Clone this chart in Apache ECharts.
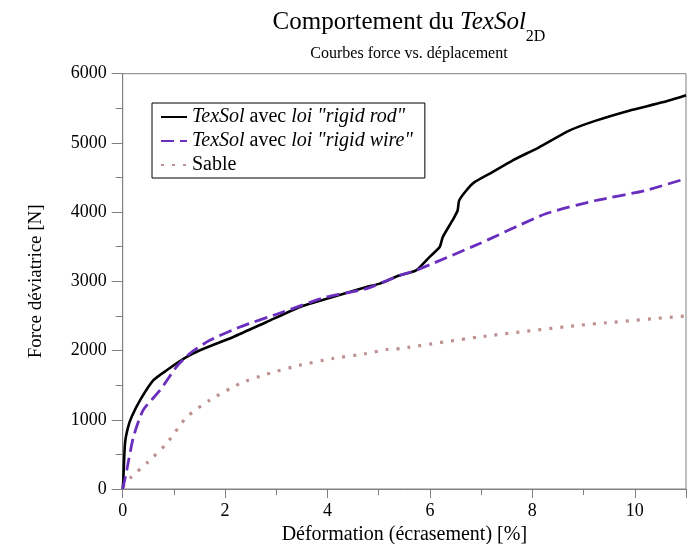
<!DOCTYPE html>
<html><head><meta charset="utf-8">
<script src="https://cdn.jsdelivr.net/npm/echarts@6/dist/echarts.min.js"></script>
<style>html,body{margin:0;padding:0;background:#fff}#c{width:695px;height:544px}</style>
</head><body><div id="c"></div>
<script>
const seriesNames = ['TexSol avec loi "rigid rod"', 'TexSol avec loi "rigid wire"', 'Sable'];
const rodX = [0, 0.01, 0.045, 0.1, 0.175, 0.34, 0.6, 0.86, 1.25, 1.51, 2.16, 2.81, 3.46, 4.1, 4.76, 5.02, 5.41, 5.73, 5.99, 6.19, 6.25, 6.44, 6.54, 6.57, 6.71, 6.87, 7.16, 7.61, 8.13, 8.72, 9.24, 9.89, 10.54, 11];
const rodY = [0, 100, 659, 880, 1043, 1284, 1572, 1716, 1908, 2005, 2197, 2413, 2630, 2774, 2918, 2967, 3087, 3159, 3351, 3495, 3639, 3880, 4024, 4168, 4313, 4433, 4553, 4745, 4937, 5178, 5322, 5466, 5586, 5690];
const wireX = [0, 0.08, 0.21, 0.4, 0.73, 1.05, 1.31, 1.7, 2.29, 3.13, 3.98, 4.76, 5.41, 5.73, 6.96, 8.26, 9.24, 10.21, 11];
const wireY = [0, 274, 754, 1139, 1428, 1764, 1957, 2149, 2341, 2557, 2774, 2894, 3087, 3159, 3543, 3976, 4168, 4313, 4485];
const sandX = [0, 0.175, 0.5, 0.86, 1.25, 1.7, 2.29, 2.81, 3.46, 4.1, 4.76, 5.15, 5.41, 6.96, 8.91, 11];
const sandY = [30, 178, 394, 659, 1040, 1284, 1524, 1659, 1789, 1885, 1957, 2015, 2029, 2197, 2365, 2500];
const xTicks = [0, 2, 4, 6, 8, 10];
const yTicks = [0, 1000, 2000, 3000, 4000, 5000, 6000];

const zip = (xs, ys) => xs.map((x, i) => [x, ys[i]]);
const F = '"Liberation Serif", "DejaVu Serif", serif';
const chart = echarts.init(document.getElementById('c'));
const legendRich = {
  i: {fontFamily: F, fontSize: 20, fontStyle: 'italic', color: '#000'},
  n: {fontFamily: F, fontSize: 20, color: '#000'}
};
chart.setOption({
  animation: false,
  backgroundColor: '#fff',
  title: {
    text: '{n|Comportement du }{i|TexSol}{s|2D}',
    subtext: 'Courbes force vs. déplacement',
    left: 404, textAlign: 'center', top: 5, itemGap: 1,
    textStyle: {
      fontWeight: 'normal',
      rich: {
        n: {fontFamily: F, fontSize: 25, fontWeight: 'normal', color: '#000', lineHeight: 28, verticalAlign: 'top'},
        i: {fontFamily: F, fontSize: 25, fontWeight: 'normal', fontStyle: 'italic', color: '#000', lineHeight: 28, verticalAlign: 'top'},
        s: {fontFamily: F, fontSize: 16, fontWeight: 'normal', color: '#000', lineHeight: 35, verticalAlign: 'bottom'}
      }
    },
    subtextStyle: {fontFamily: F, fontSize: 16, color: '#000'}
  },
  legend: {
    orient: 'vertical', left: 152, top: 103,
    data: seriesNames,
    backgroundColor: '#fff', borderColor: '#000', borderWidth: 1,
    padding: [4, 12, 3, 8], itemGap: 4, itemWidth: 26, itemHeight: 19,
    itemStyle: {opacity: 0},
    formatter: function (name) {
      if (name === seriesNames[0]) return '{i|TexSol}{n| avec }{i|loi "rigid rod"}';
      if (name === seriesNames[1]) return '{i|TexSol}{n| avec }{i|loi "rigid wire"}';
      return '{n|Sable}';
    },
    textStyle: {rich: legendRich}
  },
  grid: {left: 122.7, right: 9, top: 73.7, bottom: 55, show: true, borderColor: '#808080', borderWidth: 1,
    outerBoundsMode: 'none', containLabel: false},
  xAxis: {
    type: 'value', min: 0, max: 11, interval: 2,
    name: 'Déformation (écrasement) [%]', nameLocation: 'middle', nameGap: 30,
    nameTextStyle: {fontFamily: F, fontSize: 20, color: '#000'},
    axisLine: {show: true, lineStyle: {color: '#808080'}},
    axisTick: {show: true, inside: false, length: 9, lineStyle: {color: '#808080'}},
    minorTick: {show: true, splitNumber: 2, length: 6, lineStyle: {color: '#808080'}},
    axisLabel: {fontFamily: F, fontSize: 18, color: '#000', margin: 13,
      formatter: v => xTicks.includes(v) ? String(v) : ''},
    splitLine: {show: false}
  },
  yAxis: {
    type: 'value', min: 0, max: 6000, interval: 1000,
    name: 'Force déviatrice [N]', nameLocation: 'middle', nameGap: 77, nameRotate: 90,
    nameTextStyle: {fontFamily: F, fontSize: 19, color: '#000'},
    axisLine: {show: true, lineStyle: {color: '#808080'}},
    axisTick: {show: true, inside: false, length: 11, lineStyle: {color: '#808080'}},
    minorTick: {show: true, splitNumber: 2, length: 7, lineStyle: {color: '#808080'}},
    axisLabel: {fontFamily: F, fontSize: 18, color: '#000', margin: 16,
      formatter: v => yTicks.includes(v) ? String(v) : ''},
    splitLine: {show: false}
  },
  series: [
    {name: seriesNames[0], type: 'line', data: zip(rodX, rodY), showSymbol: false, symbol: 'none',
      smooth: 0.2, color: '#000', lineStyle: {color: '#000', width: 2.6}, z: 3},
    {name: seriesNames[1], type: 'line', data: zip(wireX, wireY), showSymbol: false, symbol: 'none',
      smooth: 0.2, color: '#6a2ebf', lineStyle: {color: '#6a2ebf', width: 2.8, type: [13, 6]}, z: 4},
    {name: seriesNames[2], type: 'line', data: zip(sandX, sandY), showSymbol: false, symbol: 'none',
      smooth: 0.2, color: '#bf9090', lineStyle: {color: '#bf9090', width: 3.2, type: [3, 8]}, z: 2}
  ]
});
</script></body></html>
